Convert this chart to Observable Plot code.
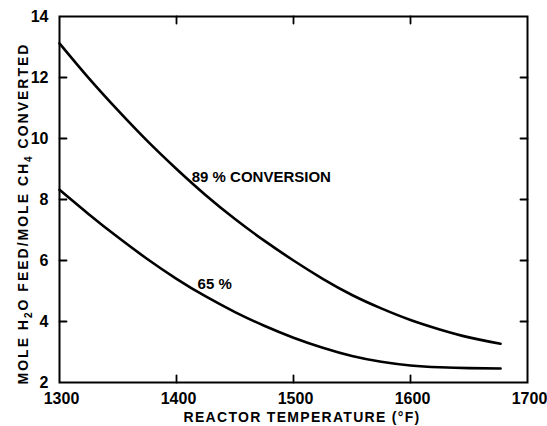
<!DOCTYPE html>
<html>
<head>
<meta charset="utf-8">
<script src="https://cdn.jsdelivr.net/npm/d3@7"></script>
<script src="https://cdn.jsdelivr.net/npm/@observablehq/plot@0.6"></script>
<style>
  html, body { margin: 0; padding: 0; background: #fff; }
</style>
</head>
<body>
<div id="chart"></div>
<script>
// Reactor temperature (°F)
const temps = [1300, 1325, 1350, 1375, 1400, 1425, 1450, 1475, 1500, 1525, 1550, 1575, 1600, 1625, 1650, 1677];
// Mole H2O feed / mole CH4 converted
const conv89 = [13.12, 11.98, 10.92, 9.92, 9.00, 8.14, 7.36, 6.65, 6.00, 5.40, 4.87, 4.43, 4.05, 3.74, 3.48, 3.27];
const conv65 = [8.32, 7.52, 6.76, 6.05, 5.40, 4.82, 4.31, 3.86, 3.47, 3.14, 2.87, 2.68, 2.56, 2.50, 2.47, 2.46];

const xTicks = [1300, 1400, 1500, 1600, 1700];
const yTicks = [2, 4, 6, 8, 10, 12, 14];

const xTitle = "REACTOR TEMPERATURE (°F)";
const yTitle = "MOLE H2O FEED/MOLE CH4 CONVERTED";

const curveLabels = [
  {text: "89 % CONVERSION", x: 1413, y: 8.56},
  {text: "65 %", x: 1418, y: 5.07}
];

const rows89 = temps.map((t, i) => ({t, v: conv89[i]}));
const rows65 = temps.map((t, i) => ({t, v: conv65[i]}));

const tickShape = {
  draw(context, l) {
    context.moveTo(0, 0);
    context.lineTo(0, -l);
  }
};

const innerX = xTicks.slice(1, -1);
const innerY = yTicks.slice(1, -1);

const chart = Plot.plot({
  width: 547,
  height: 426,
  marginLeft: 59,
  marginRight: 20,
  marginTop: 16,
  marginBottom: 44,
  style: {
    fontFamily: "'Liberation Sans', Arial, Helvetica, sans-serif",
    fontSize: "16px",
    fontWeight: "bold",
    background: "#fff",
    color: "#000"
  },
  x: {domain: [1300, 1700]},
  y: {domain: [2, 14]},
  marks: [
    Plot.frame({stroke: "#000", strokeWidth: 2}),
    Plot.axisX(xTicks, {tickSize: 0, tickPadding: 10, dx: 2, label: null, tickFormat: d => String(d)}),
    Plot.axisY(yTicks, {tickSize: 0, tickPadding: 11, label: null, tickFormat: d => String(d)}),
    // inward ticks on all four sides
    Plot.vector(innerX, {x: d => d, y: 2, rotate: 0, length: 7, anchor: "start", shape: tickShape, stroke: "#000", strokeWidth: 1.8}),
    Plot.vector(innerX, {x: d => d, y: 14, rotate: 180, length: 7, anchor: "start", shape: tickShape, stroke: "#000", strokeWidth: 1.8}),
    Plot.vector(innerY, {x: 1300, y: d => d, rotate: 90, length: 7, anchor: "start", shape: tickShape, stroke: "#000", strokeWidth: 1.8}),
    Plot.vector(innerY, {x: 1700, y: d => d, rotate: -90, length: 7, anchor: "start", shape: tickShape, stroke: "#000", strokeWidth: 1.8}),
    Plot.line(rows89, {x: "t", y: "v", curve: "natural", stroke: "#000", strokeWidth: 2.6}),
    Plot.line(rows65, {x: "t", y: "v", curve: "natural", stroke: "#000", strokeWidth: 2.6}),
    Plot.text(curveLabels, {x: "x", y: "y", text: "text", textAnchor: "start", lineAnchor: "bottom", fontSize: 15, fontWeight: "bold", fill: "#000"}),
    Plot.text([xTitle], {text: d => d, frameAnchor: "bottom", lineAnchor: "bottom", dy: 39.5, dx: 8.5, fontSize: 14, fontWeight: "bold", fill: "#000"}),
    Plot.text([yTitle], {text: d => d, frameAnchor: "left", rotate: -90, textAnchor: "middle", lineAnchor: "bottom", dx: -31.7, dy: 14, fontSize: 14, fontWeight: "bold", fill: "#000"})
  ]
});

document.getElementById("chart").appendChild(chart);

// letter spacing and subscripts on the axis titles
d3.select(chart).selectAll("text").each(function() {
  const el = d3.select(this);
  const s = this.textContent;
  if (s === xTitle) {
    el.attr("letter-spacing", 1.3);
  } else if (s === yTitle) {
    el.attr("letter-spacing", 2);
    el.text("");
    const parts = [
      ["MOLE H", false], ["2", true], ["O FEED/MOLE CH", false], ["4", true], [" CONVERTED", false]
    ];
    parts.forEach(([p, sub]) => {
      const ts = el.append("tspan").text(p);
      if (sub) ts.attr("font-size", 10).attr("dy", "4");
      else if (p !== "MOLE H") ts.attr("dy", "-4");
    });
  }
});
</script>
</body>
</html>
